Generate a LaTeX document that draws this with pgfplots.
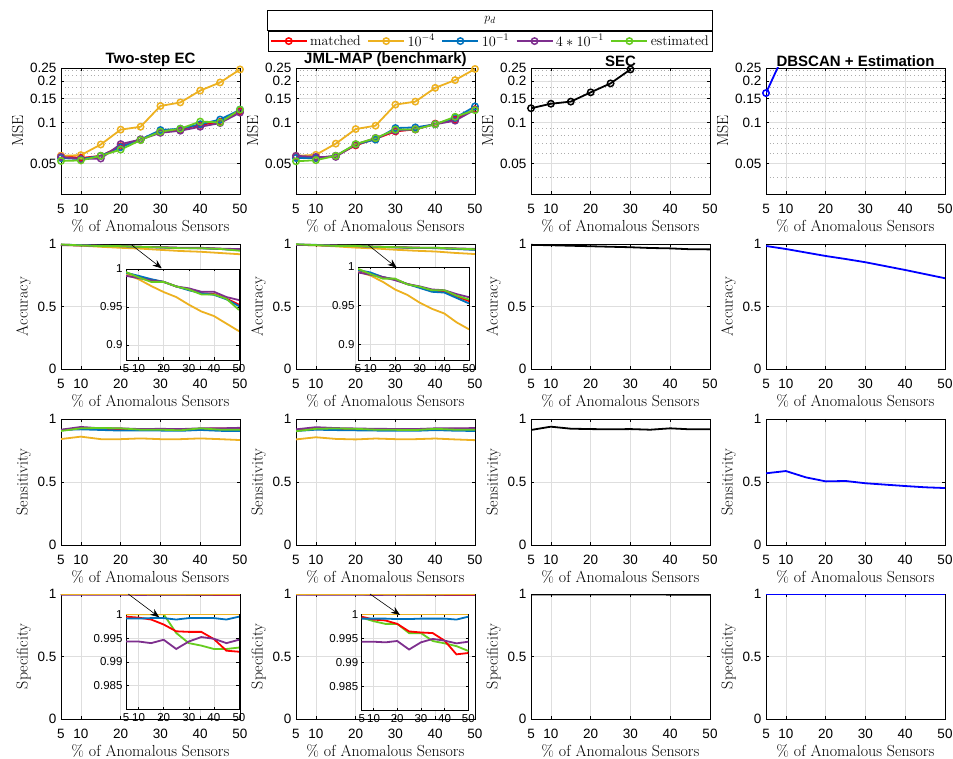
\documentclass[border=0pt]{standalone}
\usepackage{fontspec}
\usepackage{pgfplots}
\usepackage{pgfplotstable}
\pgfplotsset{compat=1.18}
\usetikzlibrary{arrows.meta}
\newfontfamily\hv{Liberation Sans}

\definecolor{mred}{rgb}{1,0,0}
\definecolor{myel}{rgb}{0.929,0.694,0.125}
\definecolor{mblu}{rgb}{0,0.447,0.741}
\definecolor{mpur}{rgb}{0.494,0.184,0.556}
\definecolor{mgrn}{rgb}{0.40,0.80,0.12}

% columns: x, matched (m), 1e-4 (a), 1e-1 (b), 4e-1 (c), estimated (e)
\pgfplotstableread{
x m a b c e
5 0.057 0.057 0.055 0.056 0.0523
10 0.055 0.0577 0.054 0.054 0.0528
15 0.057 0.069 0.057 0.0545 0.057
20 0.067 0.0886 0.066 0.0695 0.0633
25 0.075 0.093 0.075 0.075 0.0743
30 0.086 0.132 0.088 0.084 0.0857
35 0.089 0.140 0.090 0.087 0.090
40 0.096 0.171 0.097 0.093 0.1015
45 0.101 0.196 0.105 0.099 0.100
50 0.121 0.244 0.124 0.118 0.124
}\mseA
\pgfplotstableread{
x m a b c e
5 0.056 0.057 0.055 0.057 0.052
10 0.055 0.058 0.055 0.056 0.053
15 0.057 0.070 0.057 0.056 0.057
20 0.068 0.0895 0.069 0.069 0.0695
25 0.076 0.0947 0.075 0.077 0.0768
30 0.086 0.135 0.091 0.087 0.0886
35 0.089 0.142 0.092 0.089 0.089
40 0.098 0.179 0.097 0.097 0.097
45 0.105 0.204 0.108 0.103 0.110
50 0.125 0.246 0.131 0.124 0.123
}\mseB
\pgfplotstableread{
x m a b c e
5 0.995 0.993 0.995 0.991 0.996
10 0.990 0.9866 0.991 0.988 0.989
15 0.986 0.9776 0.9866 0.985 0.983
20 0.983 0.9696 0.983 0.983 0.983
25 0.977 0.963 0.977 0.977 0.977
30 0.973 0.953 0.972 0.9745 0.973
35 0.968 0.944 0.968 0.970 0.9665
40 0.967 0.938 0.966 0.970 0.9665
45 0.961 0.928 0.960 0.963 0.9607
50 0.953 0.918 0.951 0.959 0.946
}\accA
\pgfplotstableread{
x m a b c e
5 0.995 0.994 0.996 0.993 0.9977
10 0.992 0.989 0.993 0.990 0.991
15 0.987 0.981 0.987 0.987 0.985
20 0.984 0.971 0.984 0.983 0.985
25 0.978 0.964 0.978 0.978 0.9776
30 0.974 0.954 0.973 0.975 0.9745
35 0.969 0.946 0.968 0.971 0.970
40 0.968 0.940 0.967 0.970 0.970
45 0.962 0.9285 0.960 0.965 0.963
50 0.956 0.9196 0.953 0.961 0.958
}\accB
\pgfplotstableread{
x m a b c e
5 0.912 0.841 0.913 0.915 0.905
10 0.925 0.860 0.918 0.937 0.926
15 0.920 0.840 0.913 0.926 0.929
20 0.918 0.840 0.908 0.926 0.926
25 0.915 0.846 0.908 0.920 0.915
30 0.916 0.840 0.908 0.922 0.915
35 0.915 0.840 0.906 0.920 0.910
40 0.922 0.846 0.913 0.926 0.926
45 0.925 0.840 0.906 0.926 0.915
50 0.925 0.833 0.905 0.930 0.915
}\senA
\pgfplotstableread{
x m a b c e
5 0.910 0.838 0.905 0.918 0.903
10 0.922 0.855 0.915 0.935 0.922
15 0.918 0.842 0.912 0.928 0.925
20 0.916 0.838 0.910 0.925 0.922
25 0.914 0.845 0.908 0.922 0.915
30 0.915 0.840 0.907 0.921 0.914
35 0.914 0.840 0.906 0.920 0.912
40 0.920 0.845 0.912 0.926 0.922
45 0.922 0.838 0.907 0.926 0.915
50 0.923 0.832 0.905 0.928 0.915
}\senB
\pgfplotstableread{
x m a b c e
5 0.9995 1.0 0.9991 0.99427 1.0
10 0.9993 1.0 0.9991 0.99427 1.0
15 0.9989 1.0 0.9992 0.99393 1.0
20 0.99785 1.0 0.9992 0.99464 1.0
25 0.99642 1.0 0.9989 0.9927 0.99607
30 0.9963 1.0 0.9992 0.99427 0.99393
35 0.9963 1.0 0.9992 0.99521 0.99341
40 0.99479 1.0 0.9992 0.99485 0.9927
45 0.99234 1.0 0.9989 0.99393 0.9927
50 0.99212 1.0 0.9995 0.99464 0.9930
}\speA
\pgfplotstableread{
x m a b c e
5 0.9995 1.0 0.9991 0.99427 0.9993
10 0.9989 1.0 0.9991 0.99427 0.99856
15 0.99871 1.0 0.9991 0.99414 0.998
20 0.998 1.0 0.9990 0.99442 0.998
25 0.99642 1.0 0.9990 0.99264 0.99607
30 0.9962 1.0 0.9991 0.99414 0.99607
35 0.99607 1.0 0.9991 0.99485 0.99442
40 0.99449 1.0 0.9991 0.99449 0.99393
45 0.99163 1.0 0.9989 0.99393 0.99335
50 0.99191 1.0 0.9995 0.99427 0.99234
}\speB
% single-method results: SEC (s) and DBSCAN + Estimation (d)
\pgfplotstableread{
x s d
5 0.993 0.984
10 0.990 0.960
15 0.986 0.932
20 0.982 0.904
25 0.978 0.880
30 0.974 0.854
35 0.968 0.823
40 0.965 0.792
45 0.958 0.759
50 0.957 0.726
}\accS
\pgfplotstableread{
x s d
5 0.913 0.569
10 0.939 0.587
15 0.923 0.537
20 0.920 0.505
25 0.918 0.508
30 0.920 0.490
35 0.915 0.479
40 0.926 0.468
45 0.918 0.458
50 0.918 0.452
}\senS
\pgfplotstableread{
x s d
5 0.997 0.9995
10 0.997 0.9995
15 0.997 0.9995
20 0.996 0.9995
25 0.996 0.9995
30 0.996 0.9995
35 0.996 0.9995
40 0.995 0.9995
45 0.995 0.9995
50 0.995 0.9995
}\speS

\newcommand\fivelines[1]{%
  \addplot[mred] table[x=x,y=m]{#1};
  \addplot[myel] table[x=x,y=a]{#1};
  \addplot[mblu] table[x=x,y=b]{#1};
  \addplot[mpur] table[x=x,y=c]{#1};
  \addplot[mgrn] table[x=x,y=e]{#1};}
\newcommand\fivelinesY[1]{%
  \addplot[mgrn] table[x=x,y=e]{#1};
  \addplot[mred] table[x=x,y=m]{#1};
  \addplot[mblu] table[x=x,y=b]{#1};
  \addplot[mpur] table[x=x,y=c]{#1};
  \addplot[myel] table[x=x,y=a]{#1};}

\pgfplotsset{
  myMain/.style={
    scale only axis, width=179pt, xmin=5, xmax=50,
    xtick={5,10,20,30,40,50},
    grid=major,
    major grid style={draw=black!13, line width=0.5pt},
    minor grid style={draw=black!32, dash pattern=on 0.7pt off 3pt, line width=0.5pt},
    axis line style={line width=0.6pt},
    tick align=inside, major tick length=3pt, minor tick length=0pt,
    tick style={line width=0.5pt, black},
    /pgf/number format/assume math mode=true,
    ticklabel style={font=\hv\fontsize{13.5}{13.5}\selectfont},
    xticklabel style={yshift=-7pt},
    yticklabel style={xshift=-1pt},
    label style={font=\fontsize{16}{16}\selectfont},
    xlabel={\% of Anomalous Sensors},
    xlabel style={yshift=1.5pt},
    title style={font=\hv\bfseries\fontsize{15}{15}\selectfont, yshift=-8pt},
    every axis plot/.append style={line width=1.8pt},
  },
  myLin/.style={myMain, ymin=0, ymax=1, ytick={0,0.5,1}, yticklabels={0,0.5,1}},
  myLog/.style={myMain, height=126pt, ymin=0.03, ymax=0.25,
    ytick={0.05,0.1,0.15,0.2,0.25}, yticklabels={0.05,0.1,0.15,0.2,0.25},
    minor ytick={0.04,0.06,0.07,0.08,0.09,0.12,0.14,0.16,0.18,0.22,0.24},
    ymajorgrids, xmajorgrids, yminorgrids,
    ylabel={MSE},
    every axis plot/.append style={mark=o, mark size=3.2pt, mark options={solid, line width=1.5pt}}},
  myInset/.style={scale only axis, xmin=5, xmax=50,
    xtick={5,10,20,30,40,50},
    grid=major,
    major grid style={draw=black!13, line width=0.5pt},
    axis line style={line width=0.6pt},
    axis background/.style={fill=white},
    tick align=inside, major tick length=2.5pt,
    tick style={line width=0.5pt, black},
    /pgf/number format/assume math mode=true,
    ticklabel style={font=\hv\fontsize{11.5}{11.5}\selectfont},
    xticklabel style={yshift=-1pt},
    every axis plot/.append style={line width=1.8pt}},
}

\begin{document}
\begin{tikzpicture}
\useasboundingbox (0pt,0pt) rectangle (953pt,758pt);

% ---------------- Row 1: MSE ----------------
\begin{axis}[ymode=log, myLog, at={(61pt,564pt)}, title={Two-step EC},
  legend entries={matched,$10^{-4}$,$10^{-1}$,$4*10^{-1}$,estimated},
  legend style={name=leg, at={(2.397,1.296)}, anchor=north, legend columns=5,
    draw=black, line width=0.6pt,
    nodes={font=\fontsize{14}{14}\selectfont, inner sep=1.5pt},
    /tikz/every even column/.append style={column sep=5pt},
    /tikz/every odd column/.append style={column sep=1pt},
    inner sep=2pt, cells={anchor=west}},
  legend image code/.code={\draw[mark repeat=2,mark phase=2,#1] plot coordinates {(0pt,0pt) (18pt,0pt) (36pt,0pt)};}]
\fivelines{\mseA}
\end{axis}
\begin{axis}[ymode=log, myLog, at={(296pt,564pt)}, title={JML-MAP (benchmark)}]
\fivelines{\mseB}
\end{axis}
\begin{axis}[ymode=log, myLog, at={(531pt,564pt)}, title={SEC}]
\addplot[black] coordinates {(5,0.127) (10,0.137) (15,0.142) (20,0.166) (25,0.193) (30,0.244)};
\end{axis}
\begin{axis}[ymode=log, myLog, at={(766pt,564pt)}, title={DBSCAN + Estimation}]
\addplot[blue, no marks] coordinates {(5,0.164) (10,0.34)};
\addplot[blue, only marks] coordinates {(5,0.164)};
\end{axis}

% ---------------- Row 2: Accuracy ----------------
\begin{axis}[myLin, at={(61pt,389pt)}, height=125pt, ylabel={Accuracy}]
\fivelines{\accA}
\end{axis}
\begin{axis}[myInset, at={(126pt,398pt)}, width=113pt, height=91pt,
  ymin=0.88, ymax=1, ytick={0.9,0.95,1}, yticklabels={0.9,0.95,1}]
\fivelines{\accA}
\end{axis}
\begin{axis}[myLin, at={(296pt,389pt)}, height=125pt, ylabel={Accuracy}]
\fivelines{\accB}
\end{axis}
\begin{axis}[myInset, at={(358pt,398pt)}, width=111pt, height=93pt,
  ymin=0.88, ymax=1, ytick={0.9,0.95,1}, yticklabels={0.9,0.95,1}]
\fivelines{\accB}
\end{axis}
\begin{axis}[myLin, at={(531pt,389pt)}, height=125pt, ylabel={Accuracy}]
\addplot[black] table[x=x,y=s]{\accS};
\end{axis}
\begin{axis}[myLin, at={(766pt,389pt)}, height=125pt, ylabel={Accuracy}]
\addplot[blue] table[x=x,y=d]{\accS};
\end{axis}

% ---------------- Row 3: Sensitivity ----------------
\begin{axis}[myLin, at={(61pt,213pt)}, height=126pt, ylabel={Sensitivity}]
\fivelines{\senA}
\end{axis}
\begin{axis}[myLin, at={(296pt,213pt)}, height=126pt, ylabel={Sensitivity}]
\fivelines{\senB}
\end{axis}
\begin{axis}[myLin, at={(531pt,213pt)}, height=126pt, ylabel={Sensitivity}]
\addplot[black] table[x=x,y=s]{\senS};
\end{axis}
\begin{axis}[myLin, at={(766pt,213pt)}, height=126pt, ylabel={Sensitivity}]
\addplot[blue] table[x=x,y=d]{\senS};
\end{axis}

% ---------------- Row 4: Specificity ----------------
\begin{axis}[myLin, at={(61pt,39pt)}, height=125pt, ylabel={Specificity}]
\fivelinesY{\speA}
\end{axis}
\begin{axis}[myInset, at={(126pt,48.7pt)}, width=113pt, height=95pt,
  ymin=0.98, ymax=1, ytick={0.985,0.99,0.995,1}, yticklabels={0.985,0.99,0.995,1}]
\fivelinesY{\speA}
\end{axis}
\begin{axis}[myLin, at={(296pt,39pt)}, height=125pt, ylabel={Specificity}]
\fivelinesY{\speB}
\end{axis}
\begin{axis}[myInset, at={(361.7pt,48pt)}, width=106.6pt, height=95.7pt,
  ymin=0.98, ymax=1, ytick={0.985,0.99,0.995,1}, yticklabels={0.985,0.99,0.995,1}]
\fivelinesY{\speB}
\end{axis}
\begin{axis}[myLin, at={(531pt,39pt)}, height=125pt, ylabel={Specificity}]
\addplot[black] table[x=x,y=s]{\speS};
\end{axis}
\begin{axis}[myLin, at={(766pt,39pt)}, height=125pt, ylabel={Specificity}]
\addplot[blue] table[x=x,y=d]{\speS};
\end{axis}

% arrows from main plots to insets
\draw[line width=0.6pt, -{Stealth[length=9pt,width=7pt]}] (131.7pt,513pt) -- (161.7pt,489.7pt);
\draw[line width=0.6pt, -{Stealth[length=9pt,width=7pt]}] (368.3pt,513pt) -- (396.7pt,490.3pt);
\draw[line width=0.6pt, -{Stealth[length=9pt,width=7pt]}] (128.3pt,164pt) -- (159.3pt,140.7pt);
\draw[line width=0.6pt, -{Stealth[length=9pt,width=7pt]}] (370pt,164pt) -- (400pt,143pt);

% legend title row
\draw[line width=0.6pt] (leg.north west) rectangle ([yshift=20.7pt]leg.north east);
\node[font=\fontsize{13}{13}\selectfont] at ([yshift=10.3pt]leg.north) {$p_d$};
\end{tikzpicture}
\end{document}
